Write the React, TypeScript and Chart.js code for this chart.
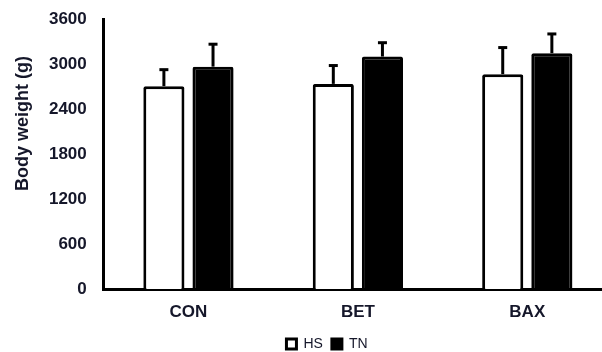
import React, { useEffect, useRef } from "react";
import { Chart, registerables } from "chart.js";

Chart.register(...registerables);

const categories = ["CON", "BET", "BAX"];
const seriesNames = ["HS", "TN"];
const hsValues = [2710, 2740, 2870];
const hsErrors = [220, 245, 355];
const tnValues = [2970, 3105, 3150];
const tnErrors = [300, 185, 257];
const yTicks = [0, 600, 1200, 1800, 2400, 3000, 3600];
const yTitle = "Body weight (g)";

const TEXT = "#15172a";
const FONT = "Arial, 'Liberation Sans', sans-serif";

const errorBarPlugin = {
  id: "errorBars",
  afterDatasetsDraw(chart: any) {
    const ctx = chart.ctx;
    const yScale = chart.scales.y;
    const errs = [hsErrors, tnErrors];
    chart.data.datasets.forEach((ds: any, i: number) => {
      const meta = chart.getDatasetMeta(i);
      meta.data.forEach((el: any, j: number) => {
        const v = ds.data[j];
        const top = yScale.getPixelForValue(v + errs[i][j]);
        ctx.save();
        ctx.strokeStyle = "#000";
        ctx.lineWidth = 3;
        ctx.lineCap = "butt";
        ctx.beginPath();
        ctx.moveTo(el.x, el.y);
        ctx.lineTo(el.x, top);
        ctx.stroke();
        ctx.beginPath();
        ctx.moveTo(el.x - 4.5, top);
        ctx.lineTo(el.x + 4.5, top);
        ctx.stroke();
        ctx.restore();
      });
    });
  },
};

const yTitlePlugin = {
  id: "yTitleText",
  afterDraw(chart: any) {
    const ctx = chart.ctx;
    ctx.save();
    ctx.translate(23, 123.5);
    ctx.rotate(-Math.PI / 2);
    ctx.font = `bold 18px ${FONT}`;
    ctx.fillStyle = TEXT;
    ctx.textAlign = "center";
    ctx.textBaseline = "middle";
    ctx.fillText(yTitle, 0, 0);
    ctx.restore();
  },
};

const legendShiftPlugin = {
  id: "legendShift",
  afterLayout(chart: any) {
    const lg = chart.legend;
    if (lg) {
      lg.left += 21;
      lg.right += 21;
      lg.top += 9;
      lg.bottom += 9;
    }
  },
};

export default function App() {
  const ref = useRef<HTMLCanvasElement | null>(null);
  useEffect(() => {
    if (!ref.current) return;
    const chart = new Chart(ref.current, {
      type: "bar",
      data: {
        labels: categories,
        datasets: [
          {
            label: seriesNames[0],
            data: hsValues,
            backgroundColor: "#ffffff",
            borderColor: "#000000",
            borderWidth: 3,
            borderRadius: 2,
            borderSkipped: "start",
          },
          {
            label: seriesNames[1],
            data: tnValues,
            backgroundColor: "#000000",
            borderColor: "#000000",
            borderWidth: 3,
            borderRadius: 2,
            borderSkipped: "start",
          },
        ],
      },
      options: {
        animation: false,
        responsive: false,
        devicePixelRatio: 1,
        datasets: {
          bar: { categoryPercentage: 0.58, barPercentage: 0.837 },
        },
        layout: { padding: { top: 19.5, right: 48, left: 0, bottom: 0 } },
        plugins: {
          legend: {
            position: "bottom",
            labels: {
              boxWidth: 10,
              boxHeight: 10,
              padding: 9,
              color: TEXT,
              font: { family: FONT, size: 14 },
            },
          },
          tooltip: { enabled: false },
        },
        scales: {
          x: {
            z: 1,
            grid: { display: false, drawTicks: false },
            border: { display: true, color: "#000", width: 3 },
            ticks: {
              color: TEXT,
              padding: 13.5,
              font: { family: FONT, size: 17, weight: "bold" },
            },
            afterFit: (s: any) => {
              s.height = 30;
            },
          },
          y: {
            z: 1,
            min: 0,
            max: 3600,
            grid: { display: false, drawTicks: false },
            border: { display: true, color: "#000", width: 3 },
            ticks: {
              color: TEXT,
              padding: 17,
              font: { family: FONT, size: 17, weight: "bold" },
              callback: (v: any) => String(v),
            },
            afterBuildTicks: (s: any) => {
              s.ticks = yTicks.map((v) => ({ value: v }));
            },
            afterFit: (s: any) => {
              s.width = 103.75;
              s.paddingTop = 0;
              s.paddingBottom = 0;
            },
          },
        },
      },
      plugins: [errorBarPlugin, yTitlePlugin, legendShiftPlugin],
    } as any);
    return () => chart.destroy();
  }, []);

  return (
    <div
      style={{
        position: "fixed",
        left: 0,
        top: 0,
        width: 602,
        height: 352,
        overflow: "hidden",
        background: "#fff",
      }}
    >
      <canvas
        ref={ref}
        width={660}
        height={352}
        style={{ width: 660, height: 352, display: "block" }}
      />
    </div>
  );
}
